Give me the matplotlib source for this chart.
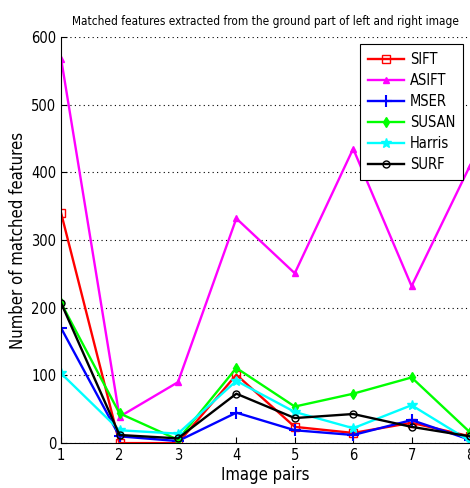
import matplotlib.pyplot as plt

plt.rcParams['font.family'] = ['DejaVu Sans']
plt.rcParams['font.stretch'] = 'condensed'

# данные
pairs = [1, 2, 3, 4, 5, 6, 7, 8]
sift = [340, 0, 0, 101, 24, 15, 30, 10]
asift = [568, 39, 90, 332, 251, 435, 232, 410]
mser = [170, 10, 3, 45, 19, 12, 34, 5]
susan = [207, 44, 5, 111, 54, 73, 97, 16]
harris = [103, 19, 14, 92, 46, 22, 56, 3]
surf = [207, 12, 7, 73, 37, 43, 24, 10]

fig = plt.figure(figsize=(4.7, 4.88), dpi=100)
ax = fig.add_axes([0.13, 0.092, 0.87, 0.832])

ax.plot(pairs, sift, color='red', marker='s', mfc='none', mec='red', ms=6, lw=1.7, label='SIFT')
ax.plot(pairs, asift, color='magenta', marker='^', ms=5, lw=1.7, label='ASIFT')
ax.plot(pairs, mser, color='blue', marker='+', ms=8, mew=1.5, lw=1.7, label='MSER')
ax.plot(pairs, susan, color='#00ff00', marker='d', ms=5, lw=1.7, label='SUSAN')
ax.plot(pairs, harris, color='cyan', marker='*', ms=7, lw=1.7, label='Harris')
ax.plot(pairs, surf, color='black', marker='o', mfc='none', ms=5, lw=1.7, label='SURF')

ax.set_xlim(1, 8)
ax.set_ylim(0, 600)
ax.set_xticks(pairs)
ax.set_yticks([0, 100, 200, 300, 400, 500, 600])
ax.tick_params(direction='in', labelsize=10.5, length=4)
ax.yaxis.grid(True, linestyle=(0, (1, 3)), color='black', linewidth=0.8)
for s in ['top', 'right']:
    ax.spines[s].set_visible(False)

ax.set_title('Matched features extracted from the ground part of left and right image', fontsize=8.5, pad=9)
ax.set_xlabel('Image pairs', fontsize=12, labelpad=2)
ax.set_ylabel('Number of matched features', fontsize=12, labelpad=3)

leg = ax.legend(loc='upper right', fontsize=10.5, fancybox=False, framealpha=1,
                edgecolor='black', borderaxespad=0.5, handlelength=2.5, handletextpad=0.4,
                labelspacing=0.42, borderpad=0.5)
leg.get_frame().set_linewidth(0.8)

plt.savefig('out.png', dpi=100)
